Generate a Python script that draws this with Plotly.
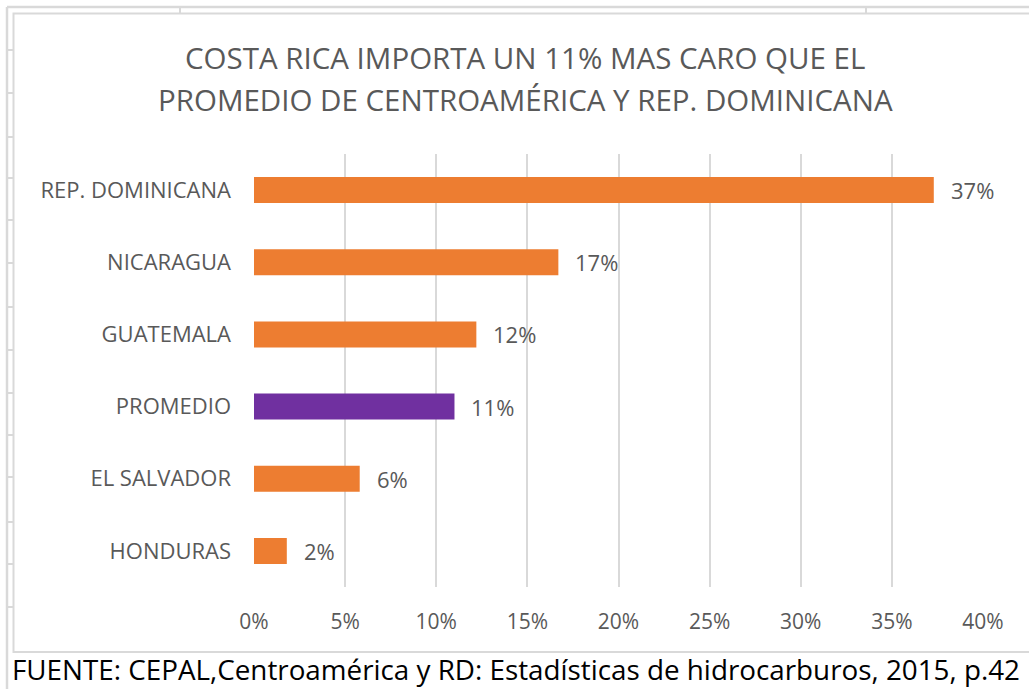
import plotly.graph_objects as go

# ---- data ----
categories = ["HONDURAS", "EL SALVADOR", "PROMEDIO", "GUATEMALA", "NICARAGUA", "REP. DOMINICANA"]
values = [0.018, 0.058, 0.110, 0.122, 0.167, 0.373]
bar_colors = ["#ED7D31", "#ED7D31", "#7030A0", "#ED7D31", "#ED7D31", "#ED7D31"]
tick_vals = [0, 0.05, 0.10, 0.15, 0.20, 0.25, 0.30, 0.35, 0.40]
title_lines = ["COSTA RICA IMPORTA UN 11% MAS CARO QUE EL",
               "PROMEDIO DE CENTROAMÉRICA Y REP. DOMINICANA"]
footer = "FUENTE: CEPAL,Centroamérica y RD: Estadísticas de hidrocarburos, 2015, p.42"

W, H = 1029, 689
FONT = "'Open Sans', 'Noto Sans', sans-serif"
GREY = "#595959"
LINE = "#d9d9d9"

def px(x):
    return x / W

def py(y):
    return 1 - y / H

fig = go.Figure()
fig.add_trace(go.Bar(
    x=values, y=categories, orientation="h",
    marker=dict(color=bar_colors, line=dict(width=0)),
    width=0.36, showlegend=False, hoverinfo="x+y",
))

annotations = []
for c, v in zip(categories, values):
    annotations.append(dict(
        x=v, y=c, xref="x", yref="y", text=f"{v:.0%}", showarrow=False,
        xanchor="left", xshift=15, font=dict(family=FONT, size=22, color=GREY)))

annotations.append(dict(x=px(525), y=py(57), xref="paper", yref="paper", text=title_lines[0],
                        showarrow=False, xanchor="center", yanchor="middle",
                        font=dict(family=FONT, size=29.5, color=GREY)))
annotations.append(dict(x=px(525), y=py(99), xref="paper", yref="paper", text=title_lines[1],
                        showarrow=False, xanchor="center", yanchor="middle",
                        font=dict(family=FONT, size=29.5, color=GREY)))
annotations.append(dict(x=px(10), y=py(669), xref="paper", yref="paper", text=footer,
                        showarrow=False, xanchor="left", yanchor="middle",
                        font=dict(family=FONT, size=27.8, color="#000000")))

shapes = []
# spreadsheet-like outer lines
shapes.append(dict(type="line", xref="paper", yref="paper", x0=px(7), x1=px(7), y0=py(7), y1=py(700),
                   line=dict(color=LINE, width=2.5)))
shapes.append(dict(type="line", xref="paper", yref="paper", x0=px(7), x1=px(1040), y0=py(7), y1=py(7),
                   line=dict(color=LINE, width=2.5)))
for yy in [50, 93, 137, 178, 220, 263, 307, 350, 393, 435, 477, 522, 564, 607]:
    shapes.append(dict(type="line", xref="paper", yref="paper", x0=px(7), x1=px(13), y0=py(yy), y1=py(yy),
                       line=dict(color=LINE, width=2)))
for xx in [180, 866]:
    shapes.append(dict(type="line", xref="paper", yref="paper", x0=px(xx), x1=px(xx), y0=py(7), y1=py(13),
                       line=dict(color=LINE, width=2)))
# chart border
shapes.append(dict(type="rect", xref="paper", yref="paper", x0=px(13.5), x1=px(1040), y0=py(13.5), y1=py(652),
                   line=dict(color=LINE, width=2), fillcolor="rgba(0,0,0,0)", layer="below"))

fig.update_layout(
    width=W, height=H,
    margin=dict(l=0, r=0, t=0, b=0, autoexpand=False),
    paper_bgcolor="white", plot_bgcolor="white",
    font=dict(family=FONT, color=GREY),
    annotations=annotations, shapes=shapes,
    bargap=0.64,
)
fig.update_xaxes(
    domain=[px(254), px(983)], range=[0, 0.40], tickvals=tick_vals, tickformat=".0%",
    showgrid=True, gridcolor=LINE, gridwidth=2, zeroline=False, showline=False, automargin=False,
    tickfont=dict(family=FONT, size=21, color=GREY), ticklabelstandoff=20, fixedrange=True,
)
fig.update_yaxes(
    domain=[py(587), py(154)], showgrid=False, zeroline=False, showline=False, automargin=False,
    tickfont=dict(family=FONT, size=22, color=GREY), ticklabelstandoff=22, fixedrange=True,
)

fig.write_html("out.html", config={"displayModeBar": False},
               post_script="document.body.style.margin='0';document.body.style.overflow='hidden';")
